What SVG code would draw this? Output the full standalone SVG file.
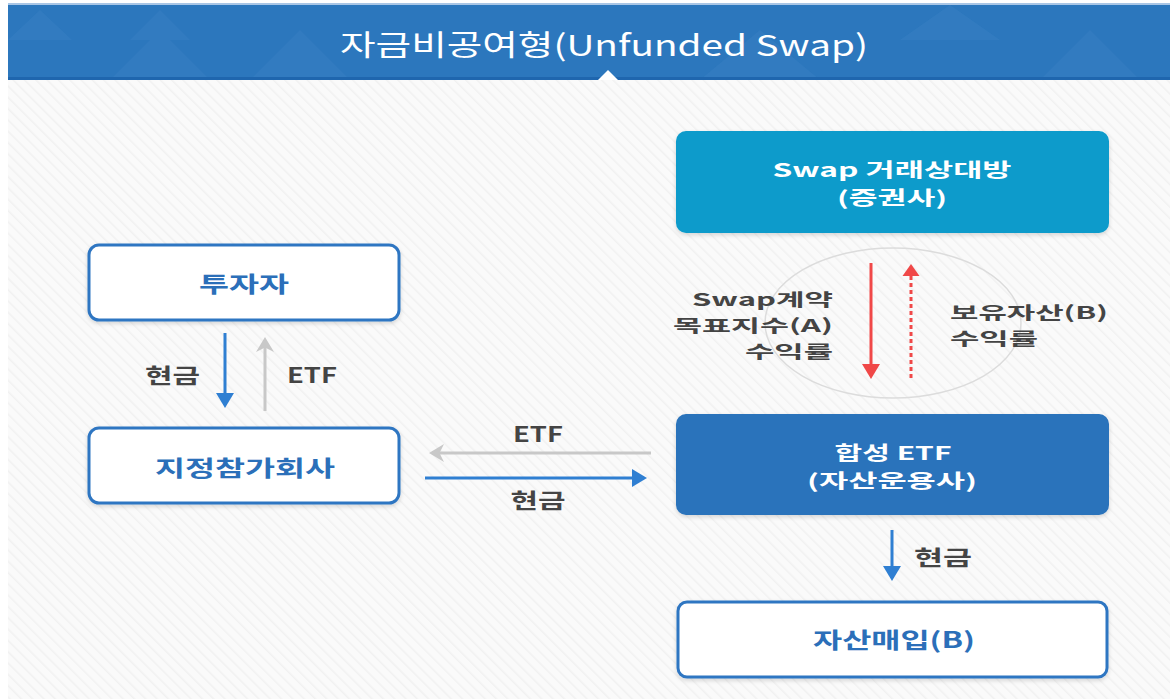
<svg xmlns="http://www.w3.org/2000/svg" width="1170" height="699" viewBox="0 0 1170 699">
<defs>
<style>
.t{font-family:"Noto Sans CJK KR","Liberation Sans",sans-serif;}
.lbl{font-size:21px;font-weight:700;fill:#444;}
.sm{font-size:17.5px;}
.nb{font-size:22px;font-weight:700;fill:#2b6fb9;}
.nw{font-size:19px;font-weight:700;fill:#ffffff;}
.box{fill:#ffffff;stroke:#2f76c2;stroke-width:3;}
.blue{stroke:#2f7fd2;stroke-width:3;fill:none;}
.gray{stroke:#c8c8c8;stroke-width:3;fill:none;}
.red{stroke:#f04848;stroke-width:3;fill:none;}
</style>
<pattern id="hatch" width="8" height="8" patternUnits="userSpaceOnUse" patternTransform="rotate(-45)">
<rect width="8" height="8" fill="#fafafa"/>
<line x1="0" y1="0" x2="0" y2="8" stroke="#f1f1f1" stroke-width="3"/>
</pattern>
<marker id="ab" markerWidth="6" markerHeight="6" refX="4" refY="3" orient="auto" markerUnits="strokeWidth">
<path d="M0,0 L5,3 L0,6 Z" fill="#2f7fd2"/>
</marker>
<marker id="ag" markerWidth="6" markerHeight="6" refX="4" refY="3" orient="auto" markerUnits="strokeWidth">
<path d="M0,0 L5,3 L0,6 L1.5,3 Z" fill="#c8c8c8"/>
</marker>
<marker id="ar" markerWidth="6" markerHeight="6" refX="4" refY="3" orient="auto" markerUnits="strokeWidth">
<path d="M0,0 L5,3 L0,6 Z" fill="#f04848"/>
</marker>
<filter id="sh" x="-5%" y="-5%" width="110%" height="120%">
<feDropShadow dx="0" dy="2" stdDeviation="2" flood-color="#000" flood-opacity="0.15"/>
</filter>
</defs>
<rect x="0" y="0" width="1170" height="699" fill="#ffffff"/>
<rect x="8" y="80" width="1162" height="619" fill="url(#hatch)"/>
<g id="header">
<rect x="8" y="3" width="1162" height="77" fill="#2c77bd"/>
<rect x="8" y="3" width="1162" height="2" fill="#a9c6e6"/>
<path d="M8,40 L40,10 L72,40 Z M110,80 L160,30 L210,80 Z M130,40 L160,10 L190,40 Z M250,80 L300,30 L350,80 Z M900,40 L950,5 L1000,40 Z M1040,80 L1090,30 L1140,80 Z M700,80 L760,30 L820,80 Z" fill="#4a8ccb" opacity="0.22"/>
<rect x="8" y="77" width="1162" height="3" fill="#1f66ae"/>
<path d="M598,80 L608,70 L618,80 Z" fill="#ffffff"/>
<text class="t" x="604" y="56" text-anchor="middle" font-size="29" fill="#ffffff" textLength="528" lengthAdjust="spacingAndGlyphs">자금비공여형(Unfunded Swap)</text>
</g>
<g id="node-swap">
<rect x="676" y="131" width="433" height="102" rx="10" fill="#0a9bcb" filter="url(#sh)"/>
<text class="t nw" x="892" y="177" text-anchor="middle" textLength="239" lengthAdjust="spacingAndGlyphs">Swap 거래상대방</text>
<text class="t nw" x="892" y="205" text-anchor="middle" textLength="110" lengthAdjust="spacingAndGlyphs">(증권사)</text>
</g>
<g id="node-etf">
<rect x="676" y="414" width="433" height="101" rx="10" fill="#2b73bb" filter="url(#sh)"/>
<text class="t nw" x="893" y="460" text-anchor="middle" textLength="117" lengthAdjust="spacingAndGlyphs">합성 ETF</text>
<text class="t nw" x="892" y="488" text-anchor="middle" textLength="170" lengthAdjust="spacingAndGlyphs">(자산운용사)</text>
</g>
<g id="node-buy">
<rect class="box" x="678" y="602" width="429" height="75" rx="9" filter="url(#sh)"/>
<text class="t nb" x="894" y="648" text-anchor="middle" textLength="162" lengthAdjust="spacingAndGlyphs">자산매입(B)</text>
</g>
<g id="node-investor">
<rect class="box" x="89" y="245" width="310" height="75" rx="10" filter="url(#sh)"/>
<text class="t nb" x="244" y="292" text-anchor="middle" textLength="90" lengthAdjust="spacingAndGlyphs">투자자</text>
</g>
<g id="node-ap">
<rect class="box" x="89" y="428" width="310" height="75" rx="10" filter="url(#sh)"/>
<text class="t nb" x="245" y="476" text-anchor="middle" textLength="180" lengthAdjust="spacingAndGlyphs">지정참가회사</text>
</g>
<g id="connectors">
<ellipse cx="893" cy="323" rx="128" ry="75" fill="none" stroke="#dcdcdc" stroke-width="1.5"/>
<line class="blue" x1="225" y1="333" x2="225" y2="405" marker-end="url(#ab)"/>
<line class="gray" x1="265" y1="411" x2="265" y2="340" marker-end="url(#ag)"/>
<line class="gray" x1="651" y1="453" x2="432" y2="453" marker-end="url(#ag)"/>
<line class="blue" x1="425" y1="478" x2="644" y2="478" marker-end="url(#ab)"/>
<line class="red" x1="871" y1="263" x2="871" y2="376" marker-end="url(#ar)"/>
<line class="red" x1="911" y1="378" x2="911" y2="276" stroke-dasharray="4 3"/>
<path d="M902.5,276 L911,264 L919.5,276 Z" fill="#f04848"/>
<line class="blue" x1="892" y1="530" x2="892" y2="578" marker-end="url(#ab)"/>
<text class="t lbl" x="200" y="383" text-anchor="end" textLength="55" lengthAdjust="spacingAndGlyphs">현금</text>
<text class="t lbl" x="287" y="383" textLength="50" lengthAdjust="spacingAndGlyphs">ETF</text>
<text class="t lbl" x="538" y="442" text-anchor="middle" textLength="50" lengthAdjust="spacingAndGlyphs">ETF</text>
<text class="t lbl" x="538" y="508" text-anchor="middle" textLength="55" lengthAdjust="spacingAndGlyphs">현금</text>
<text class="t lbl" x="914" y="565" textLength="58" lengthAdjust="spacingAndGlyphs">현금</text>
<text class="t lbl sm" x="833" y="306" text-anchor="end" fill="#333" textLength="141" lengthAdjust="spacingAndGlyphs">Swap계약</text>
<text class="t lbl sm" x="833" y="332" text-anchor="end" textLength="160" lengthAdjust="spacingAndGlyphs">목표지수(A)</text>
<text class="t lbl sm" x="833" y="358" text-anchor="end" textLength="88" lengthAdjust="spacingAndGlyphs">수익률</text>
<text class="t lbl sm" x="950" y="319" textLength="158" lengthAdjust="spacingAndGlyphs">보유자산(B)</text>
<text class="t lbl sm" x="950" y="345" textLength="88" lengthAdjust="spacingAndGlyphs">수익률</text>
</g>
</svg>
